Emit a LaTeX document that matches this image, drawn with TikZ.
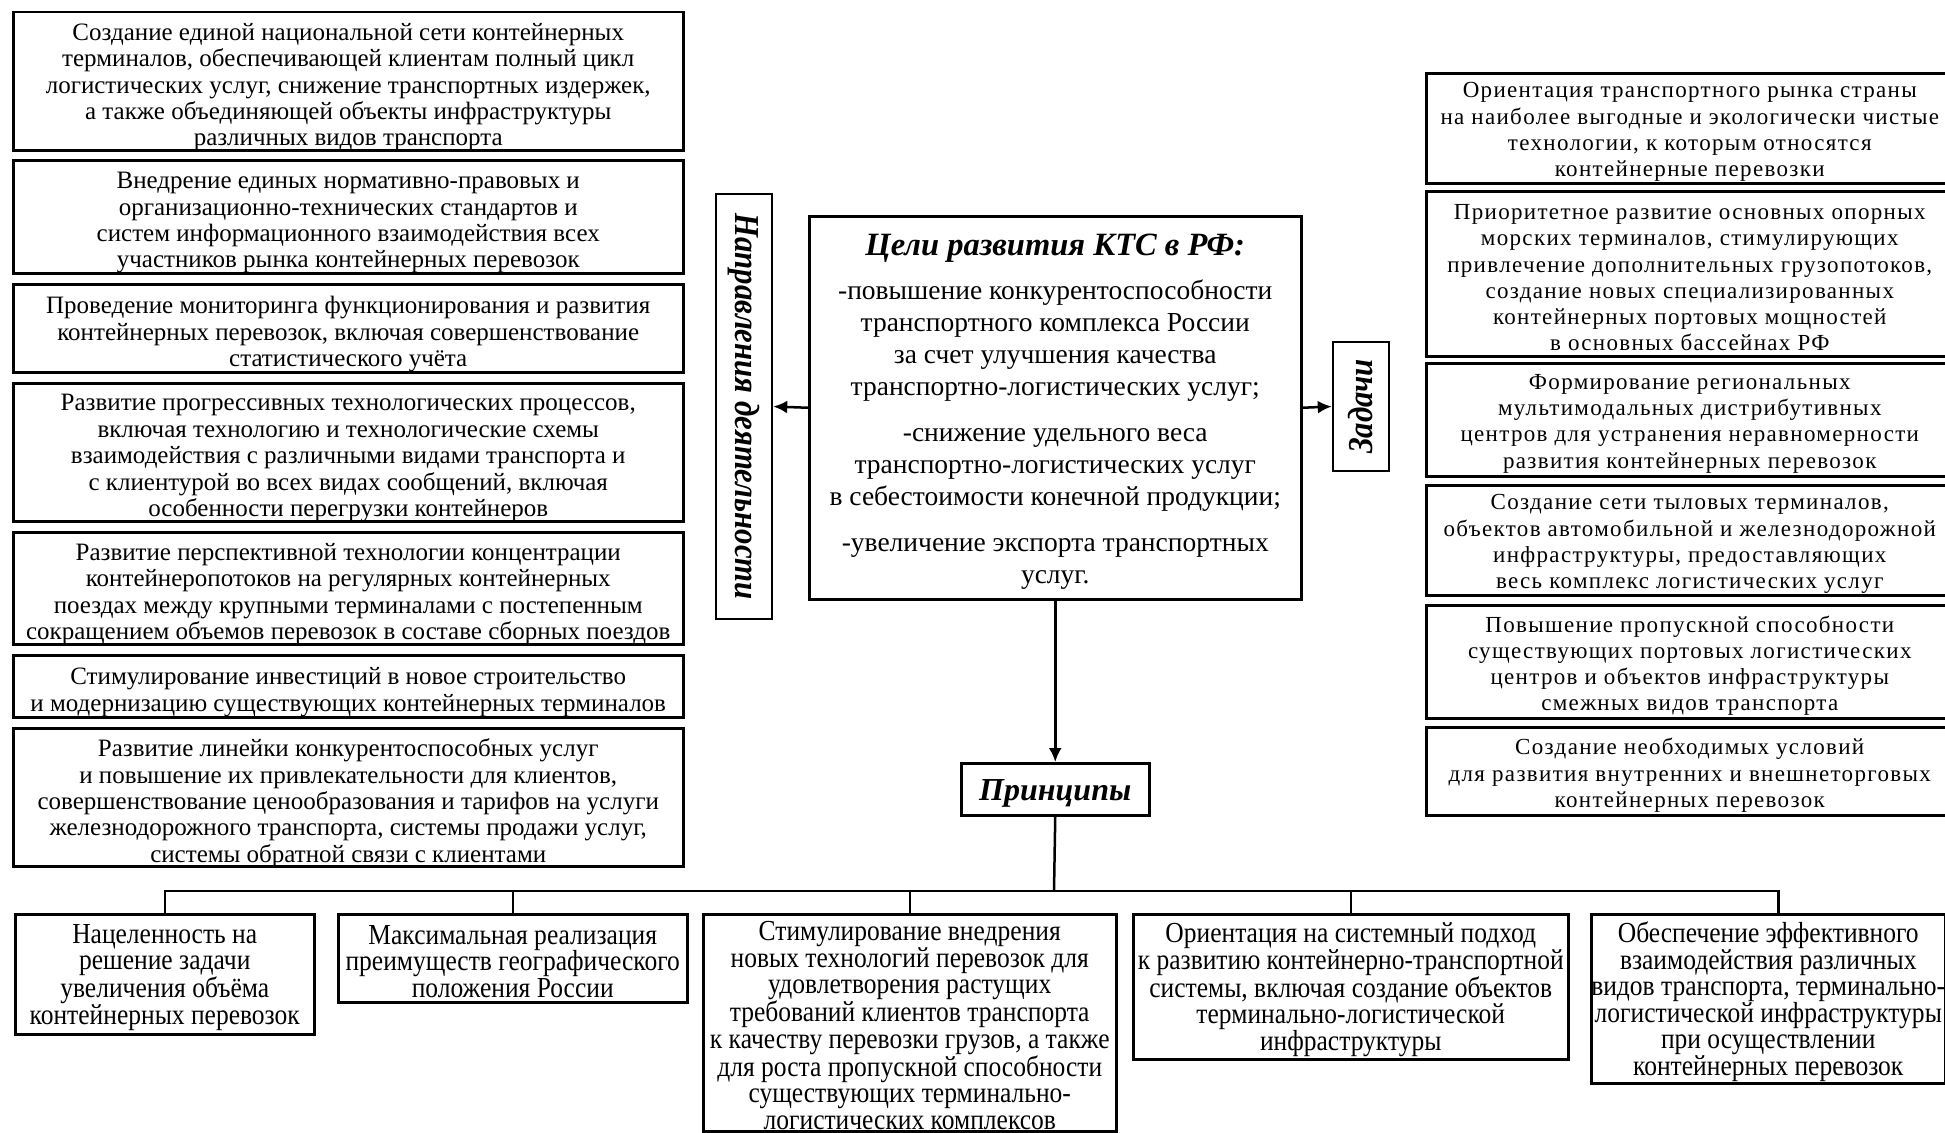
\documentclass[tikz,border=0pt]{standalone}
\usepackage{fontspec}
\setmainfont{Liberation Serif}
\newfontfamily\condfont[FakeStretch=0.88]{Liberation Serif}
\newfontfamily\widefont[LetterSpace=5.8]{Liberation Serif}
\usetikzlibrary{arrows.meta}

\tikzset{
  frame/.style={draw, line width=2.5pt, inner sep=0pt, anchor=north west},
  lbox/.style={frame, minimum width=670pt},
  rbox/.style={frame, minimum width=527pt},
  bbox/.style={frame},
  txt/.style={align=center, inner sep=0pt},
  ltxt/.style={txt, yshift=-6pt, font=\fontsize{25}{26.4}\selectfont},
  rtxt/.style={txt, yshift=-4pt, font=\widefont\fontsize{23}{26.3}\selectfont},
  btxt/.style={txt, yshift=-3pt, font=\condfont\fontsize{29}{26.5}\selectfont},
  ctxt/.style={txt, yshift=-4pt, font=\fontsize{27.5}{32}\selectfont},
  headbox/.style={draw, line width=2.5pt, inner sep=0pt,
    font=\condfont\bfseries\itshape\fontsize{35}{36}\selectfont},
  ptxt/.style={txt, yshift=-4pt, font=\bfseries\itshape\fontsize{32}{34}\selectfont},
  link/.style={line width=2.5pt},
  arr/.style={link, -{Latex[length=14pt,width=13pt]}}
}
% framed box with its text set separately at the box centre
\newcommand\panel[6]{%
  \node[#1, #5] (#3) at #4 {};
  \node[#2] at (#3.center) {#6};}

\begin{document}
\begin{tikzpicture}[x=1pt, y=-1pt]
\clip (0,0) rectangle (1945,1132);
\fill[white] (0,0) rectangle (1945,1132);

% directions of activity
\panel{lbox}{ltxt}{l1}{(12,11)}{minimum height=138pt}
  {Создание единой национальной сети контейнерных\\
   терминалов, обеспечивающей клиентам полный цикл\\
   логистических услуг, снижение транспортных издержек,\\
   а также объединяющей объекты инфраструктуры\\
   различных видов транспорта}
\panel{lbox}{ltxt}{l2}{(12,159)}{minimum height=113pt}
  {Внедрение единых нормативно-правовых и\\
   организационно-технических стандартов и\\
   систем информационного взаимодействия всех\\
   участников рынка контейнерных перевозок}
\panel{lbox}{ltxt}{l3}{(12,283)}{minimum height=88pt}
  {Проведение мониторинга функционирования и развития\\
   контейнерных перевозок, включая совершенствование\\
   статистического учёта}
\panel{lbox}{ltxt}{l4}{(12,382)}{minimum height=138pt}
  {Развитие прогрессивных технологических процессов,\\
   включая технологию и технологические схемы\\
   взаимодействия с различными видами транспорта и\\
   с клиентурой во всех видах сообщений, включая\\
   особенности перегрузки контейнеров}
\panel{lbox}{ltxt}{l5}{(12,531)}{minimum height=112pt}
  {Развитие перспективной технологии концентрации\\
   контейнеропотоков на регулярных контейнерных\\
   поездах между крупными терминалами с постепенным\\
   сокращением объемов перевозок в составе сборных поездов}
\panel{lbox}{ltxt}{l6}{(12,654)}{minimum height=62pt}
  {Стимулирование инвестиций в новое строительство\\
   и модернизацию существующих контейнерных терминалов}
\panel{lbox}{ltxt}{l7}{(12,727)}{minimum height=138pt}
  {Развитие линейки конкурентоспособных услуг\\
   и повышение их привлекательности для клиентов,\\
   совершенствование ценообразования и тарифов на услуги\\
   железнодорожного транспорта, системы продажи услуг,\\
   системы обратной связи с клиентами}

% central goals box
\panel{frame}{ctxt}{goals}{(808,215)}{minimum width=492pt, minimum height=383pt}
  {{\bfseries\itshape\fontsize{32.5}{34}\selectfont Цели развития КТС в РФ:}\\[12pt]
   -повышение конкурентоспособности\\
   транспортного комплекса России\\
   за счет улучшения качества\\
   транспортно-логистических услуг;\\[14pt]
   -снижение удельного веса\\
   транспортно-логистических услуг\\
   в себестоимости конечной продукции;\\[14pt]
   -увеличение экспорта транспортных\\
   услуг.}

% side headings
\node[headbox, rotate=-90, minimum width=425pt, minimum height=56pt]
  (dirs) at (744,406.5) {Направления деятельности};
\node[headbox, rotate=90, minimum width=129pt, minimum height=56pt]
  (tasks) at (1361,406.5) {Задачи};
\panel{frame}{ptxt}{princ}{(960,762)}{minimum width=188pt, minimum height=52pt}
  {Принципы}

% tasks
\panel{rbox}{rtxt}{r1}{(1425,72)}{minimum height=110pt}
  {Ориентация транспортного рынка страны\\
   на наиболее выгодные и экологически чистые\\
   технологии, к которым относятся\\
   контейнерные перевозки}
\panel{rbox}{rtxt}{r2}{(1425,190)}{minimum height=165pt}
  {Приоритетное развитие основных опорных\\
   морских терминалов, стимулирующих\\
   привлечение дополнительных грузопотоков,\\
   создание новых специализированных\\
   контейнерных портовых мощностей\\
   в основных бассейнах РФ}
\panel{rbox}{rtxt}{r3}{(1425,362)}{minimum height=113pt}
  {Формирование региональных\\
   мультимодальных дистрибутивных\\
   центров для устранения неравномерности\\
   развития контейнерных перевозок}
\panel{rbox}{rtxt}{r4}{(1425,484)}{minimum height=110pt}
  {Создание сети тыловых терминалов,\\
   объектов автомобильной и железнодорожной\\
   инфраструктуры, предоставляющих\\
   весь комплекс логистических услуг}
\panel{rbox}{rtxt}{r5}{(1425,604)}{minimum height=113pt}
  {Повышение пропускной способности\\
   существующих портовых логистических\\
   центров и объектов инфраструктуры\\
   смежных видов транспорта}
\panel{rbox}{rtxt}{r6}{(1425,726)}{minimum height=88pt}
  {Создание необходимых условий\\
   для развития внутренних и внешнеторговых\\
   контейнерных перевозок}

% principles
\panel{bbox}{btxt}{b1}{(14,913)}{minimum width=299pt, minimum height=120pt}
  {Нацеленность на\\ решение задачи\\ увеличения объёма\\ контейнерных перевозок}
\panel{bbox}{btxt}{b2}{(337,913)}{minimum width=349pt, minimum height=88pt}
  {Максимальная реализация\\ преимуществ географического\\ положения России}
\panel{bbox}{btxt}{b3}{(702,913)}{minimum width=413pt, minimum height=217pt}
  {Стимулирование внедрения\\ новых технологий перевозок для\\
   удовлетворения растущих\\ требований клиентов транспорта\\
   к качеству перевозки грузов, а также\\ для роста пропускной способности\\
   существующих терминально-\\ логистических комплексов}
\panel{bbox}{btxt}{b4}{(1132,913)}{minimum width=435pt, minimum height=145pt}
  {Ориентация на системный подход\\ к развитию контейнерно-транспортной\\
   системы, включая создание объектов\\ терминально-логистической\\ инфраструктуры}
\panel{bbox}{btxt}{b5}{(1590,913)}{minimum width=354pt, minimum height=169pt}
  {Обеспечение эффективного\\ взаимодействия различных\\
   видов транспорта, терминально-\\ логистической инфраструктуры\\
   при осуществлении\\ контейнерных перевозок}

% connectors
\draw[arr] (goals.west) -- (dirs.north);
\draw[arr] (goals.east) -- (tasks.north);
\draw[arr] (goals.south) -- (princ.north);
\coordinate (bus) at (1054,891);
\draw[link] (princ.south) -- (bus);
\draw[link] (b1.north) |- (bus);
\draw[link] ([xshift=10pt]b5.north) |- (bus);
\draw[link] (b2.north) -- (b2.north |- bus);
\draw[link] (b3.north) -- (b3.north |- bus);
\draw[link] (b4.north) -- (b4.north |- bus);
\end{tikzpicture}
\end{document}
